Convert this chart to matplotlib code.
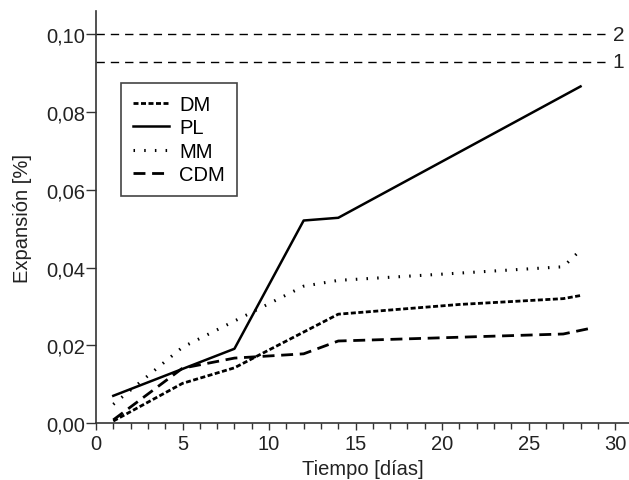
import matplotlib.pyplot as plt
from matplotlib.ticker import MultipleLocator, FuncFormatter

plt.rcParams['font.family'] = ['Liberation Sans', 'DejaVu Sans']

# data
dm_x = [1, 5, 8, 14, 21, 27, 28]
dm_y = [0.0005, 0.0102, 0.0142, 0.0280, 0.0305, 0.0320, 0.0328]
pl_x = [1, 8, 12, 14, 28]
pl_y = [0.0070, 0.0191, 0.0521, 0.0528, 0.0866]
mm_x = [1, 5, 12, 14, 20, 27, 28]
mm_y = [0.0048, 0.0195, 0.0352, 0.0367, 0.0383, 0.0402, 0.0445]
cdm_x = [1, 5, 8, 12, 14, 27, 28.5]
cdm_y = [0.0008, 0.0141, 0.0167, 0.0178, 0.0211, 0.0229, 0.0243]
limits = [0.093, 0.100]
limit_labels = ['1', '2']

fig = plt.figure(figsize=(6.29, 4.81), dpi=100)
ax = fig.add_axes([0.1526, 0.1185, 0.8474, 0.8565])

ax.plot(dm_x, dm_y, color='k', lw=2.0, linestyle=(0, (1.8, 0.9)), label='DM')
ax.plot(pl_x, pl_y, color='k', lw=1.8, linestyle='-', label='PL')
ax.plot(mm_x, mm_y, color='k', lw=2.2, linestyle=(0, (0.5, 3.0)), label='MM')
ax.plot(cdm_x, cdm_y, color='k', lw=2.0, linestyle=(0, (4.3, 2.4)), label='CDM')

for val, lab in zip(limits, limit_labels):
    ax.hlines(val, 0, 29.7, colors='k', lw=1.0, linestyles=(0, (6, 4.3)))
    ax.text(29.85, val, lab, fontsize=15, va='center', ha='left', color='#222222')

ax.set_xlim(0, 30.8)
ax.set_ylim(0, 0.106)
ax.xaxis.set_major_locator(MultipleLocator(5))
ax.xaxis.set_minor_locator(MultipleLocator(1))
ax.yaxis.set_major_locator(MultipleLocator(0.02))
ax.yaxis.set_major_formatter(FuncFormatter(lambda v, p: f'{v:.2f}'.replace('.', ',')))
ax.tick_params(which='major', direction='out', width=1, labelsize=14.5,
               colors='#333333', labelcolor='#222222')
ax.tick_params(axis='x', which='major', length=5, pad=3)
ax.tick_params(axis='y', which='major', length=7, pad=1)
ax.tick_params(which='minor', direction='out', length=4, width=1, colors='#333333')
for s in ['top', 'right']:
    ax.spines[s].set_visible(False)
for s in ['left', 'bottom']:
    ax.spines[s].set_linewidth(1.2)
    ax.spines[s].set_color('#333333')

ax.set_xlabel('Tiempo [días]', fontsize=14.5, labelpad=4, color='#222222')
ax.set_ylabel('Expansión [%]', fontsize=14.5, labelpad=10, color='#222222')

leg = ax.legend(loc='upper left', bbox_to_anchor=(0.047, 0.826), fontsize=14.5,
                handlelength=1.8, handletextpad=0.5, labelspacing=0.22,
                fancybox=False, framealpha=1, borderpad=0.6, borderaxespad=0)
leg.get_frame().set_edgecolor('#444444')
leg.get_frame().set_linewidth(1.2)

fig.savefig('out.png', dpi=100)
